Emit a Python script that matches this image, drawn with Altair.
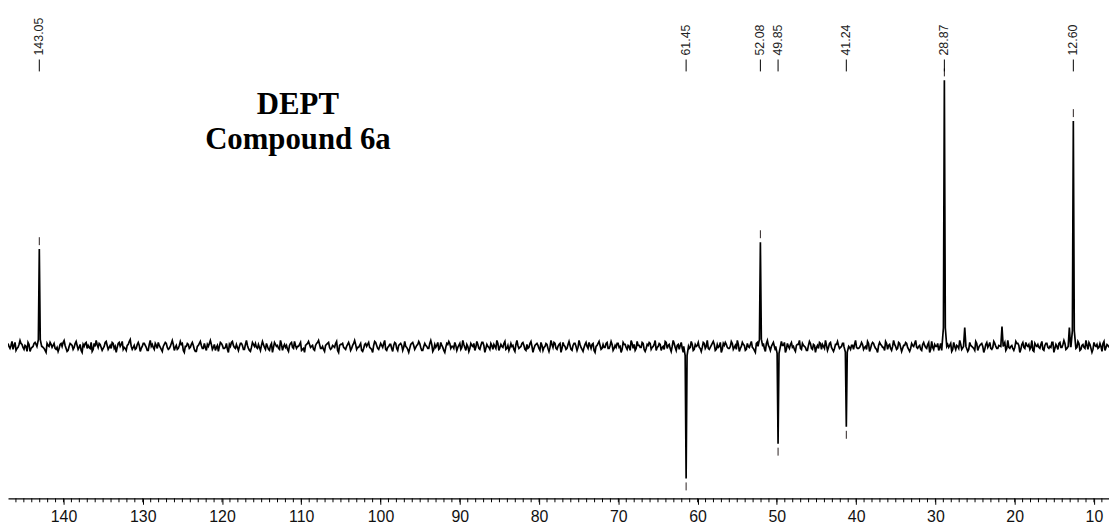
import altair as alt
import numpy as np
import pandas as pd

# ---- data ----
PEAK_PPM = [143.05, 61.45, 52.08, 49.85, 41.24, 28.87, 12.60]
PEAK_INT = [98, -133, 105, -98, -81, 268, 227]
PEAK_LABELS = ["143.05", "61.45", "52.08", "49.85", "41.24", "28.87", "12.60"]

MINOR_PPM = [26.3, 21.6, 13.1]
MINOR_INT = [19, 20, 19]

MAJOR_TICKS = [140, 130, 120, 110, 100, 90, 80, 70, 60, 50, 40, 30, 20, 10]
MINOR_TICKS = list(range(9, 147))

TITLE_LINES = ["DEPT", "Compound 6a"]

# baseline noise, estimated texture (left to right): even samples
NOISE_EVEN = [
    3,-2,5,1,-4,-1,6,2,-3,0,4,-5,-1,3,2,-4,5,0,-2,-6,1,4,-1,3,-3,
    -5,2,0,6,-2,-4,3,1,-1,5,-3,2,-6,0,4,1,-2,-5,3,6,-1,2,-4,0,5,
    -3,1,4,-2,-6,3,0,5,-1,-4,2,7,-3,1,-2,4,-5,0,3,-1,-4,6,2,-3,1,
    4,-1,-5,2,3,-3,0,6,-4,1,-2,5,3,-6,0,2,-1,4,-3,-5,1,5,-2,3,-4,
    0,6,-3,2,-1,-5,4,1,-2,3,-6,0,5,-1,2,-4,3,1,-3,6,-2,-5,4,0,-1,
    2,-4,5,-1,3,-3,1,-6,4,0,-2,6,-4,2,1,-5,3,-1,5,-2,0,4,-3,-6,2,
    5,-1,1,-4,3,6,-2,0,-5,2,4,-3,1,-1,5,-6,2,3,-2,0,4,-4,1,6,-3,
    -1,3,-5,2,0,4,-2,-6,5,1,-3,3,-1,6,-4,0,2,-5,4,-2,1,3,-4,5,-1,
    -6,2,4,-3,1,5,-1,-4,3,0,-2,6,-5,2,1,-3,4,-1,-6,3,5,-2,0,4,-4,
    1,-3,6,-1,2,-5,3,0,-4,5,-2,1,4,-6,2,-1,3,-3,0,6,-4,2,-1,5,-2,
    -4,3,1,-5,6,-2,0,4,-3,2,-1,5,-6,1,3,-2,4,-4,0,2,-5,6,-1,3,-3,
    2,-6,4,0,-2,5,-3,1,3,-4,6,-1,-5,2,0,4,-2,3,-6,1,5,-3,2,-1,4,
    -2,5,-4,1,3,-1,-6,4,2,-3,0,6,-2,-4,5,1,-1,3,-5,2,4,-3,0,6,-1,
    3,-4,0,5,-2,2,-5,6,-1,1,-3,4,-6,3,0,-2,5,-4,2,1,-1,-5,4,-2,6,
    -3,1,5,-4,2,0,-6,3,4,-1,-2,5,-3,1,6,-5,0,2,-4,3,-1,5,-2,-6,4,
    1,-2,3,-5,6,-1,0,4,-4,2,-3,5,1,-6,3,-2,4,0,-5,2,6,-3,1,-1,-4,
    5,-2,2,-6,1,4,-3,0,6,-4,3,-1,-5,2,5,-2,0,3,-6,4,-1,1,-3,6,-2,
    -1,4,-3,0,5,-5,2,3,-2,-6,4,1,-1,5,-3,2,-4,6,0,-2,3,-5,1,4,-1,
    -5,3,0,6,-2,1,-4,4,-1,2,-6,5,-3,0,3,-1,-4,6,-2,2,1,-5,4,-3,0,
    6,-3,2,-1,-5,4,0,-2,5,-4,1,3,-6,2,-1,4,-3,5,0,-2,-5,3,1,-4,6,
    -2,1,-4,5,3,-6,2,-1,4,0,-3,6,-5,1,2,-2,5,-4,3,-1,0,4,-6,2,-3,
    4,-1,6,-3,0,2,-5,3,-2,5,-4,1,-1,6,-3,2,-6,4,0,-2,3,-5,5,-1,1,
]
# odd samples (between the even ones)
NOISE_ODD = [
    0,1,-3,4,-2,2,3,-1,1,-5,2,-2,0,4,-3,1,2,-1,-4,3,0,2,1,-2,-1,
    -2,3,4,1,-5,0,2,-3,3,1,-1,-4,2,3,-2,-1,4,-3,0,2,3,-1,-2,4,1,
    -1,-2,3,0,-1,4,2,-3,-2,1,5,0,-1,-3,2,1,-2,3,1,-4,2,0,-1,3,-2,
    1,-3,0,4,-1,-2,3,2,-1,-3,1,2,-4,0,3,-2,2,1,-5,0,3,1,-2,-1,2,
    3,2,-1,-4,1,0,3,-2,-1,-3,2,4,1,-2,-1,0,3,-3,2,1,-4,-1,2,3,-2,
    -1,1,2,-3,0,-4,3,-1,2,1,-3,2,0,-1,-3,1,4,-2,1,0,2,-4,-2,1,3,
    2,0,-3,1,4,2,-2,-3,1,3,-1,-2,0,3,-4,1,2,-1,-3,2,1,-2,3,2,-1,
    1,-4,-2,3,2,-1,-3,1,4,-2,0,1,3,-3,-1,2,-2,1,3,-4,2,1,-1,0,-3,
    -2,3,1,-1,2,3,-4,0,1,-2,3,2,-3,-1,4,-2,1,-4,-1,2,3,0,-2,1,-1,
    3,-1,2,-4,0,-2,1,3,-1,2,-3,4,1,-2,0,-3,1,2,-2,3,-1,0,3,-3,1,
    -1,0,-3,2,1,-1,3,1,-4,-2,3,0,-2,2,1,-4,1,-1,3,-2,-1,2,4,-2,0,
    3,-2,1,-3,2,1,-4,3,0,-1,2,-3,-1,4,-2,1,2,-4,0,3,1,-2,-1,3,-2,
    1,2,-2,-1,3,0,-3,2,-1,1,-4,3,2,-2,1,-1,4,-3,-2,1,3,-1,2,-4,0,
    2,-1,-3,4,1,-2,0,3,-4,2,1,-2,-3,1,3,-1,2,-3,0,4,-2,-1,3,0,-2,
    -1,3,2,-3,-1,4,-3,1,2,-2,0,3,-1,-3,2,-2,4,1,-3,0,2,-1,-4,3,1,
    2,-1,-2,3,1,-4,2,0,-1,3,-2,1,4,-3,0,2,-1,-3,1,2,-2,3,0,-4,1,
    3,-3,1,-1,-2,3,2,-2,1,-1,4,-3,-2,2,1,-1,3,-4,0,2,-3,1,2,-1,-2,
    1,2,-1,-3,3,-2,4,0,-3,1,2,-1,-4,3,1,-2,0,2,-3,4,-1,-2,1,3,-3,
    -2,1,3,-1,0,-3,2,1,-2,4,-3,-1,2,0,-4,3,1,-2,2,-1,3,-3,0,1,-2,
    2,-2,3,1,-3,1,-1,-4,3,-1,2,0,-3,4,1,-2,-1,3,-2,1,-3,2,4,-2,-1,
    0,-2,-1,3,1,-3,4,-2,1,2,-1,-4,3,0,-1,2,-3,1,3,-2,-1,4,-2,0,3,
    -1,2,3,-2,1,-4,0,2,-1,3,-3,2,-2,1,4,-2,-3,1,2,-1,0,3,-4,2,-1,
]

X_DOMAIN = [147.0, 8.1]
Y_DOMAIN = [-153, 339]

# ---- build the spectrum trace ----
noise = [v for pair in zip(NOISE_EVEN, NOISE_ODD) for v in pair]
grid = np.linspace(X_DOMAIN[0], X_DOMAIN[1], len(noise))
all_ppm = PEAK_PPM + MINOR_PPM
rows = [(p, n) for p, n in zip(grid, noise) if all(abs(p - q) > 0.3 for q in all_ppm)]
for p, h in zip(PEAK_PPM, PEAK_INT):
    rows += [(p + 0.3, 0), (p + 0.12, 0.07 * h), (p, h), (p - 0.12, 0.07 * h), (p - 0.3, 0)]
for p, h in zip(MINOR_PPM, MINOR_INT):
    rows += [(p + 0.15, 0), (p, h), (p - 0.15, 0)]
spec = pd.DataFrame(rows, columns=["ppm", "y"]).sort_values("ppm")

peaks = pd.DataFrame({"ppm": PEAK_PPM, "h": PEAK_INT, "label": PEAK_LABELS})
peaks["y1"] = [h + (4 if h > 0 else -4) for h in PEAK_INT]
peaks["y2"] = [h + (12 if h > 0 else -12) for h in PEAK_INT]

xscale = alt.Scale(domain=X_DOMAIN, nice=False, zero=False)
yscale = alt.Scale(domain=Y_DOMAIN, nice=False, zero=False)

xaxis = alt.Axis(
    values=MAJOR_TICKS, title=None, grid=False, domainColor="black", domainWidth=1.2,
    tickColor="black", tickSize=6, tickWidth=1, labelFont="Liberation Sans",
    labelFontSize=16, labelColor="#111", labelPadding=4, format="d",
)

line = alt.Chart(spec).mark_line(color="black", strokeWidth=1.7, clip=True).encode(
    x=alt.X("ppm:Q", scale=xscale, axis=xaxis),
    y=alt.Y("y:Q", scale=yscale, axis=None),
)

markers = alt.Chart(peaks).mark_rule(color="#2a2020", strokeWidth=1).encode(
    x=alt.X("ppm:Q", scale=xscale),
    y=alt.Y("y1:Q", scale=yscale),
    y2="y2:Q",
)

label_rules = alt.Chart(peaks).mark_rule(color="black", strokeWidth=1).encode(
    x=alt.X("ppm:Q", scale=xscale),
    y=alt.value(50),
    y2=alt.value(62),
)

label_text = alt.Chart(peaks).mark_text(
    angle=270, align="left", baseline="middle", font="Liberation Sans",
    fontSize=12.5, color="#222",
).encode(
    x=alt.X("ppm:Q", scale=xscale),
    y=alt.value(46),
    text="label:N",
)

minor = alt.Chart(pd.DataFrame({"t": MINOR_TICKS})).mark_rule(color="black", strokeWidth=1).encode(
    x=alt.X("t:Q", scale=xscale),
    y=alt.value(492),
    y2=alt.value(496),
)

t1 = alt.Chart(pd.DataFrame({"t": [TITLE_LINES[0]]})).mark_text(
    font="Liberation Serif", fontWeight="bold", fontSize=31, color="black",
    align="center", baseline="alphabetic",
).encode(x=alt.value(292), y=alt.value(105), text="t:N")

t2 = alt.Chart(pd.DataFrame({"t": [TITLE_LINES[1]]})).mark_text(
    font="Liberation Serif", fontWeight="bold", fontSize=31, color="black",
    align="center", baseline="alphabetic",
).encode(x=alt.value(292), y=alt.value(140), text="t:N")

chart = alt.layer(line, markers, label_rules, label_text, minor, t1, t2).properties(
    width=1109, height=492,
    autosize=alt.AutoSizeParams(type="none"),
    padding={"left": 0, "top": 0, "right": 0, "bottom": 26},
    background="white",
).configure_view(stroke=None)

chart.save("out.html", embed_options={"renderer": "svg", "actions": False})
